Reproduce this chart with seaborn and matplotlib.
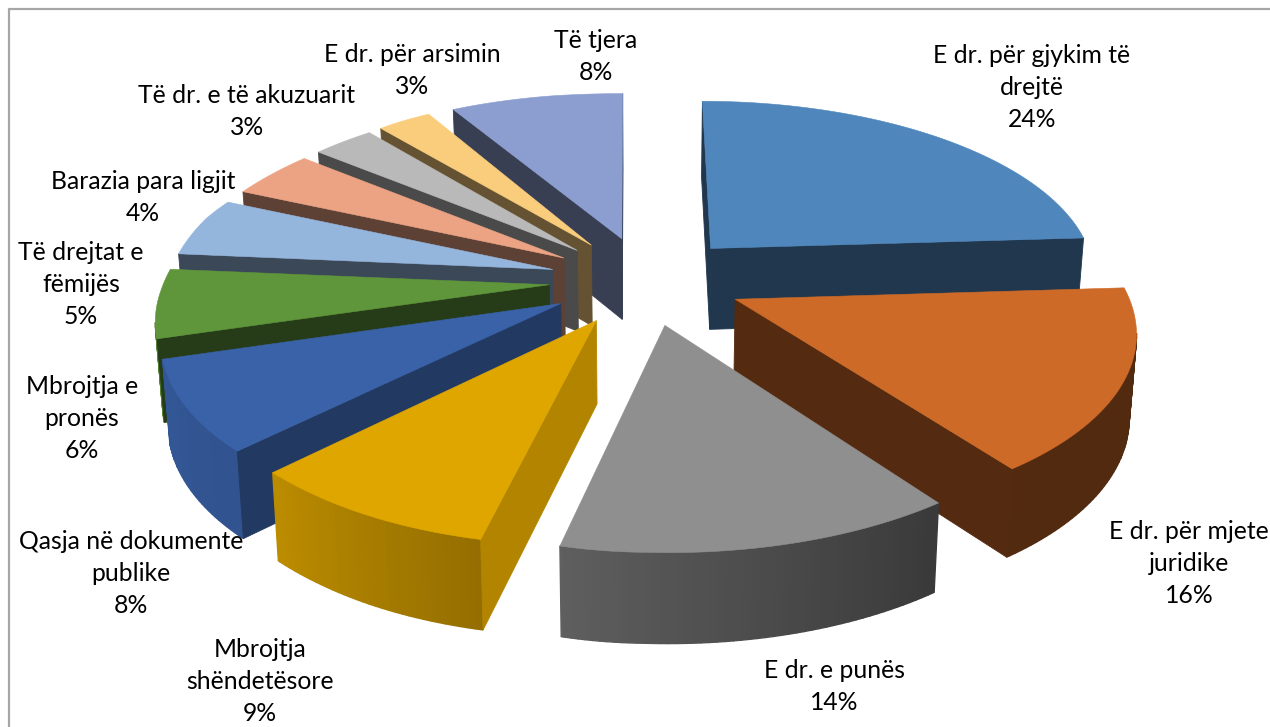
import numpy as np
import seaborn as sns
import matplotlib
matplotlib.use("Agg")
import matplotlib.pyplot as plt

sns.set_theme(style="white")
plt.rcParams['font.family'] = ['Lato', 'DejaVu Sans']

# data
labels = ["E dr. për gjykim të\ndrejtë", "E dr. për mjete\njuridike", "E dr. e punës",
          "Mbrojtja\nshëndetësore", "Qasja në dokumente\npublike", "Mbrojtja e\npronës",
          "Të drejtat e\nfëmijës", "Barazia para ligjit", "Të dr. e të akuzuarit",
          "E dr. për arsimin", "Të tjera"]
values = [24, 16, 14, 9, 8, 6, 5, 4, 3, 3, 8]
colors = ["#4f86bc", "#cd6a27", "#8f8f8f", "#dfa600", "#3a62a9", "#5f963b",
          "#94b5dc", "#eba384", "#b9b9b9", "#facd7c", "#8b9ecf"]

# label layout: centre x, first line y (image pixels)
label_x = [1032, 1189, 834, 260, 131, 82, 81, 143, 247, 412, 596]
label_y = [54, 530, 669, 648, 540, 385, 251, 180, 94, 53, 39]

# pie camera
cx, cy = 646, 280
sx, sy, depth = 388, 178, 0.15
height = 82
explode = 0.25


def project(u, v, bottom=False):
    w = 1 + depth * v
    x = cx + sx * u / w
    y = cy - sy * v / w
    # the left side of the original sits a bit off a plain perspective
    left = np.clip(-u * 4, 0, 1)
    x = x + 12 * left * np.clip(-v, 0, 1) - 12 * left * np.clip((v - 0.95) * 6, 0, 1)
    x = x - 6 * left * np.clip(1 - abs(v - 0.4) * 2.5, 0, 1)
    y = y + 0.02 * max(0, cx - x) * np.clip(1 - v, 0, 1)
    if bottom:
        x = cx + (x - cx) * 0.985
        y = y + height / np.sqrt(w)
    return np.array([x, y])


def rim(theta, off):
    return np.sin(theta) + off[0], np.cos(theta) + off[1]


def faces_viewer(p, q, inside):
    e = q - p
    c1 = e[0] * 1 - e[1] * 0
    i = inside - p
    c2 = e[0] * i[1] - e[1] * i[0]
    return c1 * c2 < 0


def wall_shade(deg):
    return np.interp(deg, [144, 194, 226, 250, 360], [0.40, 0.66, 0.84, 0.88, 0.88])


def face_shade(deg):
    return np.interp(deg, [144, 194, 227, 250], [0.41, 0.80, 0.58, 0.40])


def darker(col, f):
    return tuple(c * f for c in col)


fig = plt.figure(figsize=(12.7, 7.27), dpi=100)
ax = fig.add_axes([0, 0, 1, 1])
ax.set_xlim(0, 1270)
ax.set_ylim(727, 0)
ax.axis("off")

# chart frame
ax.plot([9, 9, 1270], [727, 9, 9], color="#a6a6a6", lw=1.6, zorder=1)

palette = sns.color_palette(colors)
edges = np.cumsum([0] + values) / sum(values) * 360
order = sorted(range(len(values)),
               key=lambda i: -np.cos(np.radians((edges[i] + edges[i + 1]) / 2)))

for i in order:
    a0, a1 = edges[i], edges[i + 1]
    mid = np.radians((a0 + a1) / 2)
    off = (explode * np.sin(mid), explode * np.cos(mid))
    col = palette[i]
    arc = np.radians(np.append(np.arange(a0, a1, 1.0), a1))
    apex = project(off[0], off[1])
    apex_b = project(off[0], off[1], True)

    # outer wall as narrow strips, so the shade can change along it
    for t0, t1 in zip(arc[:-1], arc[1:]):
        p, q = project(*rim(t0, off)), project(*rim(t1, off))
        if faces_viewer(p, q, apex):
            pb, qb = project(*rim(t0, off), True), project(*rim(t1, off), True)
            shade = darker(col, wall_shade(np.degrees((t0 + t1) / 2)))
            ax.fill([p[0], q[0], qb[0], pb[0]], [p[1], q[1], qb[1], pb[1]],
                    color=shade, lw=1.0, zorder=2)

    # cut faces
    for t, other in ((arc[0], arc[-1]), (arc[-1], arc[0])):
        p = project(*rim(t, off))
        if faces_viewer(apex, p, project(*rim(other, off))):
            pb = project(*rim(t, off), True)
            ax.fill([apex[0], p[0], pb[0], apex_b[0]], [apex[1], p[1], pb[1], apex_b[1]],
                    color=darker(col, face_shade(np.degrees(t))), lw=0.6, zorder=2)

    # top
    top = np.array([apex] + [project(*rim(t, off)) for t in arc])
    ax.fill(top[:, 0], top[:, 1], color=col, lw=0.4, zorder=2)

# labels go over everything
for i in range(len(values)):
    ax.text(label_x[i], label_y[i] - 10, f"{labels[i]}\n{values[i]}%", ha="center", va="top",
            fontsize=17.8, color="black", linespacing=1.48, zorder=5)

fig.savefig("out.png", dpi=100, facecolor="white")
